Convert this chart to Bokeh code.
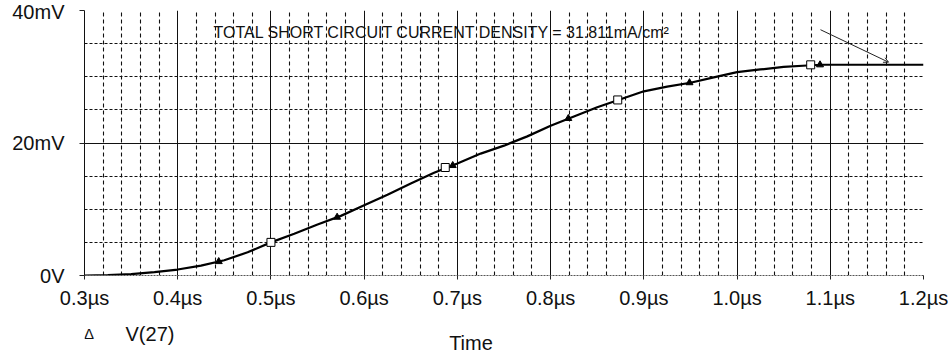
from bokeh.plotting import figure
from bokeh.layouts import column
from bokeh.models import Range1d, FixedTicker, Grid, Label, Arrow, OpenHead
from bokeh.core.properties import value
from bokeh.embed import file_html
from bokeh.resources import INLINE

# Transient response V(27): time in microseconds, voltage in millivolts
time_us = [0.30, 0.325, 0.35, 0.375, 0.40, 0.425, 0.45, 0.475, 0.50, 0.525,
           0.55, 0.575, 0.60, 0.625, 0.65, 0.675, 0.70, 0.725, 0.75, 0.775,
           0.80, 0.825, 0.85, 0.875, 0.90, 0.925, 0.95, 0.975, 1.00, 1.025,
           1.05, 1.075, 1.09, 1.20]
v27_mv = [0.0, 0.05, 0.2, 0.5, 0.9, 1.5, 2.3, 3.5, 5.0, 6.3,
          7.7, 9.0, 10.6, 12.2, 13.9, 15.5, 16.9, 18.4, 19.6, 21.0,
          22.6, 24.0, 25.4, 26.6, 27.8, 28.5, 29.1, 29.9, 30.7, 31.1,
          31.5, 31.7, 31.81, 31.81]

# Trace markers
square_t = [0.500, 0.687, 0.872, 1.079]
square_v = [5.0, 16.3, 26.5, 31.8]
tri_t = [0.444, 0.571, 0.695, 0.819, 0.949, 1.089]
tri_v = [2.1, 8.8, 16.6, 23.7, 29.1, 31.8]

# Axis ticks and labels
x_ticks = [0.3, 0.4, 0.5, 0.6, 0.7, 0.8, 0.9, 1.0, 1.1, 1.2]
x_labels = ["0.3µs", "0.4µs", "0.5µs", "0.6µs", "0.7µs", "0.8µs",
            "0.9µs", "1.0µs", "1.1µs", "1.2µs"]
x_minor = [round(0.3 + 0.02 * i, 2) for i in range(46) if i % 5 != 0]
y_ticks = [0, 20, 40]
y_labels = ["0V", "20mV", "40mV"]
y_minor = [5, 10, 15, 25, 30, 35]

FONT = "Liberation Sans"
INK = "#111111"

T0, T1 = 0.3, 1.2
BORDER_L, BORDER_R = 84, 28
WIDTH = 951

p = figure(width=WIDTH, height=315, output_backend="svg", toolbar_location=None,
           x_range=Range1d(T0, T1), y_range=Range1d(0, 40),
           min_border_left=BORDER_L, min_border_right=BORDER_R, min_border_top=10,
           min_border_bottom=40, outline_line_color=None,
           background_fill_color="white", border_fill_color="white")

# Axes
p.xaxis.ticker = FixedTicker(ticks=x_ticks)
p.xaxis.major_label_overrides = {t: s for t, s in zip(x_ticks, x_labels)}
p.yaxis.ticker = FixedTicker(ticks=y_ticks)
p.yaxis.major_label_overrides = {t: s for t, s in zip(y_ticks, y_labels)}
for ax in (p.xaxis[0], p.yaxis[0]):
    ax.major_label_text_font = FONT
    ax.major_label_text_font_size = "20px"
    ax.major_label_text_color = INK
    ax.minor_tick_line_color = None
    ax.major_tick_in = 0
    ax.major_tick_line_color = "#222222"
p.xaxis.major_tick_out = 4
p.xaxis.major_label_standoff = 7
p.xaxis.axis_line_color = "#555555"
p.xaxis.axis_line_dash = "2 1"
p.yaxis.major_tick_out = 5
p.yaxis.major_label_standoff = 15
p.yaxis.axis_line_color = "#111111"

# Grid: solid major verticals, dashed minor lines
p.xgrid.ticker = FixedTicker(ticks=x_ticks, minor_ticks=x_minor)
p.xgrid.grid_line_color = "#111111"
p.xgrid.grid_line_width = 1
p.xgrid.minor_grid_line_color = "#111111"
p.xgrid.minor_grid_line_width = 1.1
p.xgrid.minor_grid_line_dash = "4 3"
p.ygrid.ticker = FixedTicker(ticks=[20], minor_ticks=y_minor)
p.ygrid.grid_line_color = "#111111"
p.ygrid.minor_grid_line_color = "#111111"
p.ygrid.minor_grid_line_width = 1.1
p.ygrid.minor_grid_line_dash = "3 2"
p.add_layout(Grid(dimension=1, ticker=FixedTicker(ticks=[40]),
                  grid_line_color="#999999", grid_line_width=1.5))

# Trace
p.line(time_us, v27_mv, line_color="black", line_width=2.2)
p.scatter(tri_t, tri_v, marker="triangle", size=7, fill_color="black",
          line_color="black")
p.scatter(square_t, square_v, marker="square", size=8, fill_color="white",
          line_color="black", line_width=1)

# Annotation with pointer to the plateau
p.add_layout(Label(x=0.4384, y=36.7, text="TOTAL SHORT CIRCUIT CURRENT DENSITY = 31.811mA/cm²",
                   text_font=FONT, text_font_size="16px", text_color=INK,
                   text_baseline="middle"))
p.add_layout(Arrow(end=OpenHead(size=5, line_width=1, line_color="#222222"),
                   x_start=1.0895, y_start=37.1, x_end=1.1625, y_end=32.2,
                   line_width=1, line_color="#222222"))

# Footer strip: trace legend and the time-axis title, sharing the time scale
foot = figure(width=WIDTH, height=40, output_backend="svg", toolbar_location=None,
              x_range=p.x_range, y_range=Range1d(40, 0),
              x_axis_location=None, y_axis_location=None,
              min_border_left=BORDER_L, min_border_right=BORDER_R,
              min_border_top=0, min_border_bottom=0, outline_line_color=None,
              background_fill_color="white", border_fill_color="white")
foot.grid.visible = False
foot.text(x=[0.3048], y=[18], text=["Δ"], text_font=value(FONT),
          text_font_size="15px", text_color=INK, text_align="center",
          text_baseline="middle")
foot.text(x=[0.344], y=[18], text=["V(27)"], text_font=value(FONT),
          text_font_size="20px", text_color=INK, text_baseline="middle")
foot.text(x=[0.7146], y=[27], text=["Time"], text_font=value(FONT),
          text_font_size="20px", text_color=INK, text_align="center",
          text_baseline="middle")

layout = column(p, foot, spacing=0)
open("out.html", "w").write(file_html(layout, INLINE))
